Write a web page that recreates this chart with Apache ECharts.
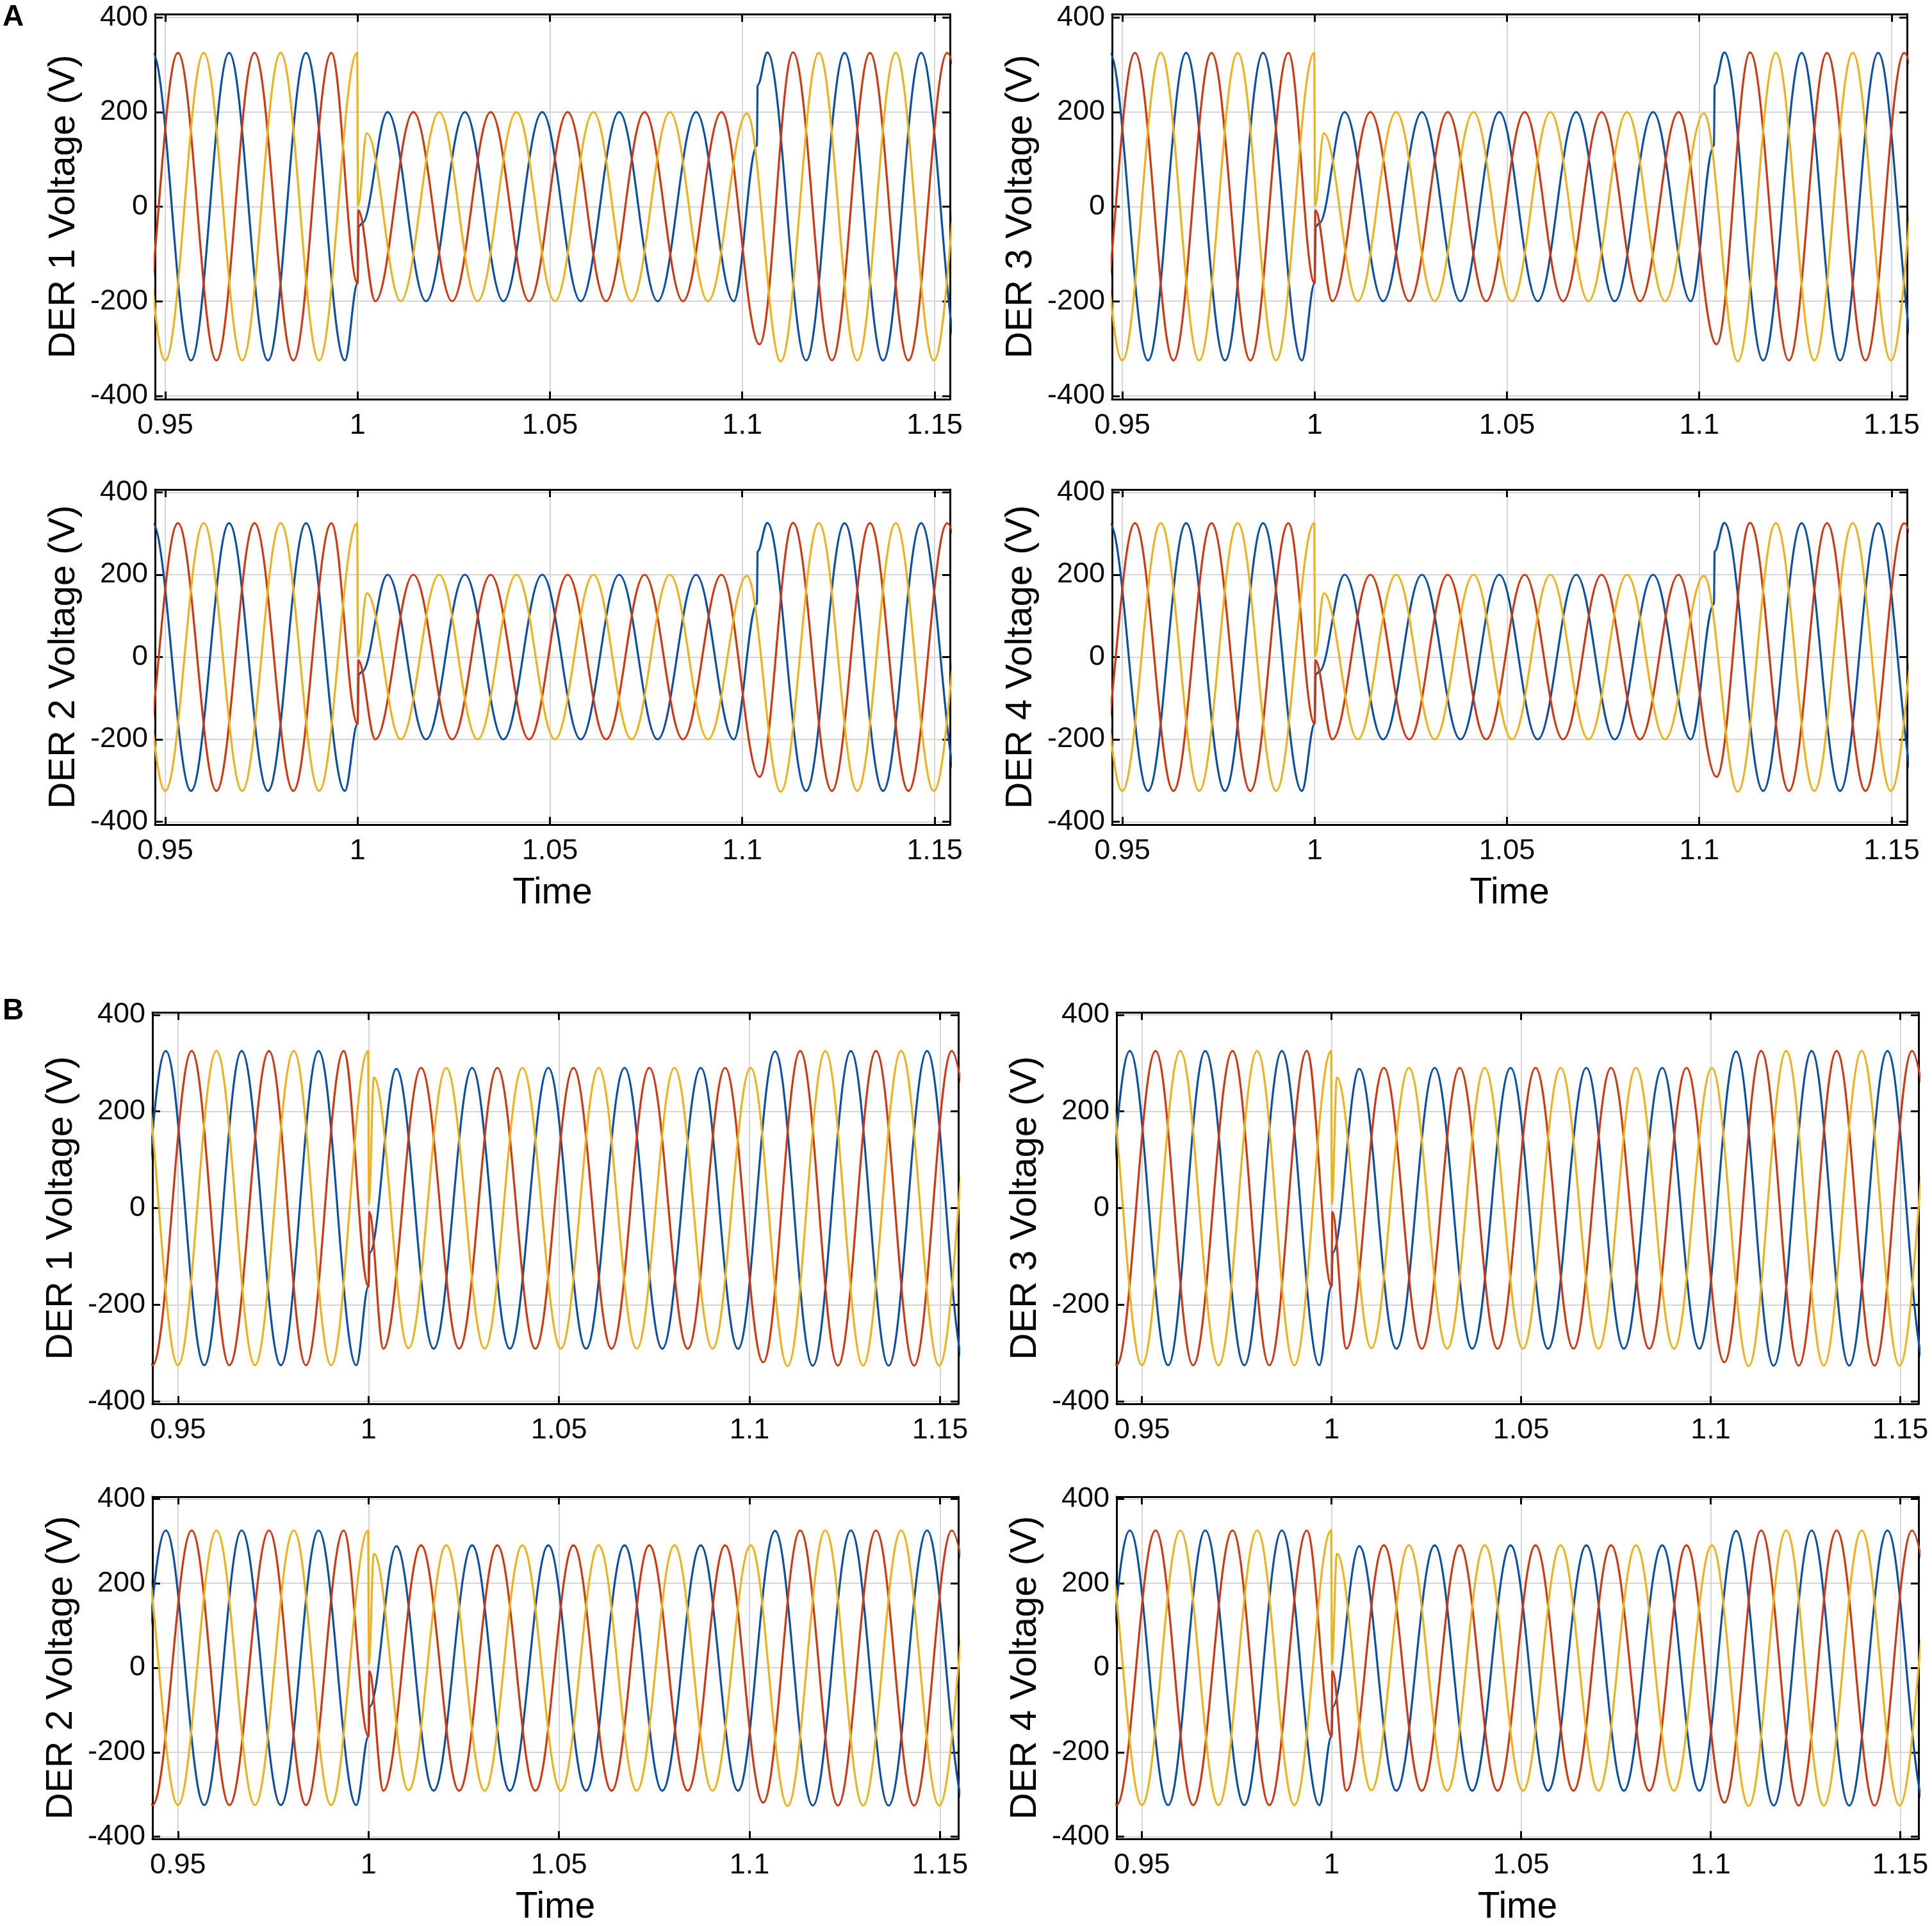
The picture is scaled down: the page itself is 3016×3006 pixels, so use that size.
<!DOCTYPE html>
<html>
<head>
<meta charset="utf-8">
<script src="https://cdn.jsdelivr.net/npm/echarts@6/dist/echarts.min.js"></script>
<style>
html,body{margin:0;padding:0;background:#ffffff;}
#chart{width:3016px;height:3006px;}
</style>
</head>
<body>
<div id="chart"></div>
<script>
// ---------- tick labels ----------
const xTickValues = [0.95, 1.0, 1.05, 1.1, 1.15];
const yTickValues = [-400, -200, 0, 200, 400];
const derTitles = ['DER 1 Voltage (V)', 'DER 2 Voltage (V)', 'DER 3 Voltage (V)', 'DER 4 Voltage (V)'];
const phaseNames = ['Phase a', 'Phase b', 'Phase c'];
const phaseColors = ['#0a4fa6', '#d1360f', '#edb11c'];

// ---------- (A) waveform key points: [time, volts] ----------
// extrema (peaks / troughs) and the break points at the disturbances
const A_blue = [
  [0.9366,-325],[0.9467,325],[0.9567,-325],[0.9666,325],[0.9767,-325],[0.9866,325],[0.9967,-325],
  [1.0000,-162],[1.0003,-42],[1.0012,-35],[1.0078,200],
  [1.0178,-200],[1.0279,200],[1.0379,-200],[1.0480,200],[1.0580,-200],[1.0680,200],[1.0780,-200],[1.0880,200],[1.0978,-200],
  [1.1038,129],[1.1040,257],[1.1065,326],
  [1.1166,-325],[1.1266,325],[1.1366,-325],[1.1465,325],[1.1566,-325],[1.1666,325]
];
const A_red = [
  [0.9332,325],[0.9433,-325],[0.9533,325],[0.9633,-325],[0.9732,325],[0.9833,-325],[0.9932,325],
  [1.0000,-162],[1.0002,-8],[1.0046,-200],
  [1.0145,200],[1.0246,-200],[1.0346,200],[1.0446,-200],[1.0546,200],[1.0646,-200],[1.0746,200],[1.0846,-200],[1.0946,200],
  [1.1045,-291],[1.1132,326],[1.1233,-325],[1.1332,325],[1.1432,-325],[1.1533,325],[1.1633,-325]
];
const A_yellow = [
  [0.9300,-325],[0.9400,325],[0.9500,-325],[0.9600,325],[0.9700,-325],[0.9800,325],[0.9900,-325],[0.9999,325],
  [1.0001,2],[1.0024,155],[1.0112,-200],
  [1.0212,200],[1.0312,-200],[1.0413,200],[1.0513,-200],[1.0613,200],[1.0712,-200],[1.0812,200],[1.0911,-200],[1.1012,197],
  [1.1100,-327],[1.1199,325],[1.1299,-325],[1.1399,325],[1.1498,-325],[1.1599,325],[1.1698,-325]
];

// ---------- (B) waveform key points: [time, volts] ----------
const B_blue = [
  [0.9266,325],[0.9366,-325],[0.9468,325],[0.9569,-325],[0.9667,325],[0.9770,-325],[0.9869,325],[0.9968,-325],
  [1.0000,-162],[1.0003,-92],[1.0073,288],
  [1.0171,-291],[1.0272,290],[1.0371,-291],[1.0472,290],[1.0571,-291],[1.0672,290],[1.0771,-291],[1.0872,290],[1.0970,-291],
  [1.1067,324],[1.1166,-326],[1.1266,325],[1.1365,-326],[1.1466,325],[1.1566,-326],[1.1666,325]
];
const B_red = [
  [0.9332,325],[0.9433,-325],[0.9536,325],[0.9635,-325],[0.9739,325],[0.9836,-325],[0.9935,325],
  [1.0000,-162],[1.0002,-8],[1.0039,-291],
  [1.0138,290],[1.0238,-291],[1.0338,290],[1.0438,-291],[1.0538,290],[1.0638,-291],[1.0737,290],[1.0838,-291],[1.0936,290],
  [1.1036,-319],[1.1133,325],[1.1232,-326],[1.1332,325],[1.1432,-326],[1.1531,325],[1.1632,-326]
];
const B_yellow = [
  [0.9300,-325],[0.9400,325],[0.9500,-325],[0.9601,325],[0.9702,-325],[0.9804,325],[0.9902,-325],[0.9999,325],
  [1.0001,8],[1.0014,270],[1.0105,-290],
  [1.0204,290],[1.0305,-291],[1.0404,290],[1.0505,-291],[1.0604,290],[1.0704,-291],[1.0803,290],[1.0903,-291],[1.1003,290],
  [1.1100,-327],[1.1199,325],[1.1298,-326],[1.1398,325],[1.1498,-326],[1.1598,325],[1.1698,-326]
];

const waves = { A: [A_blue, A_red, A_yellow], B: [B_blue, B_red, B_yellow] };
const ranges = {
  A: { xmin: 0.94734, xmax: 1.1540, ymax: 407 },
  B: { xmin: 0.9433, xmax: 1.1548, ymax: 405 }
};

// ---------- layout ----------
const panels = [
  { set: 'A', der: 0, left: 242,  top: 22,   width: 1241, height: 601, time: false },
  { set: 'A', der: 2, left: 1736, top: 22,   width: 1241, height: 601, time: false },
  { set: 'A', der: 1, left: 242,  top: 764,  width: 1241, height: 523, time: true },
  { set: 'A', der: 3, left: 1736, top: 764,  width: 1241, height: 523, time: true },
  { set: 'B', der: 0, left: 238,  top: 1580, width: 1258, height: 611, time: false },
  { set: 'B', der: 2, left: 1743, top: 1580, width: 1252, height: 611, time: false },
  { set: 'B', der: 1, left: 238,  top: 2336, width: 1258, height: 534, time: true },
  { set: 'B', der: 3, left: 1743, top: 2336, width: 1252, height: 534, time: true }
];

const FONT = "'Liberation Sans', Arial, Helvetica, sans-serif";
const boxLine = { color: '#000000', width: 3 };
const tickStyle = { color: '#000000', width: 3 };
const gridLine = { color: '#d6d6d6', width: 2 };

const grids = [], xAxes = [], yAxes = [], series = [];

panels.forEach((p, i) => {
  const r = ranges[p.set];
  grids.push({
    left: p.left, top: p.top, width: p.width, height: p.height,
    containLabel: false, outerBoundsMode: 'none', show: false
  });
  // bottom x axis
  xAxes.push({
    gridIndex: i, type: 'value', position: 'bottom', min: r.xmin, max: r.xmax,
    axisLine: { show: true, onZero: false, lineStyle: boxLine },
    axisTick: { show: true, inside: true, length: 12, customValues: xTickValues, lineStyle: tickStyle },
    axisLabel: {
      show: true, customValues: xTickValues, margin: 19, fontSize: 45, color: '#0a0a0a', fontFamily: FONT,
      formatter: v => String(Math.round(v * 100) / 100)
    },
    splitLine: { show: true, lineStyle: gridLine },
    name: p.time ? 'Time' : '', nameLocation: 'middle', nameGap: 79,
    nameTextStyle: { fontSize: 57, color: '#000000', fontFamily: FONT }
  });
  // top x axis (box + ticks)
  xAxes.push({
    gridIndex: i, type: 'value', position: 'top', min: r.xmin, max: r.xmax,
    axisLine: { show: true, onZero: false, lineStyle: boxLine },
    axisTick: { show: true, inside: true, length: 12, customValues: xTickValues, lineStyle: tickStyle },
    axisLabel: { show: false },
    splitLine: { show: false }
  });
  // left y axis
  yAxes.push({
    gridIndex: i, type: 'value', position: 'left', min: -r.ymax, max: r.ymax,
    axisLine: { show: true, onZero: false, lineStyle: boxLine },
    axisTick: { show: true, inside: true, length: 12, customValues: yTickValues, lineStyle: tickStyle },
    axisLabel: { show: true, customValues: yTickValues, margin: 11, fontSize: 45, color: '#0a0a0a', fontFamily: FONT },
    splitLine: { show: true, lineStyle: gridLine },
    name: derTitles[p.der], nameLocation: 'middle', nameRotate: 90, nameGap: 113,
    nameTextStyle: { fontSize: 58, color: '#000000', fontFamily: FONT }
  });
  // right y axis (box + ticks)
  yAxes.push({
    gridIndex: i, type: 'value', position: 'right', min: -r.ymax, max: r.ymax,
    axisLine: { show: true, onZero: false, lineStyle: boxLine },
    axisTick: { show: true, inside: true, length: 12, customValues: yTickValues, lineStyle: tickStyle },
    axisLabel: { show: false },
    splitLine: { show: false }
  });
  waves[p.set].forEach((pts, k) => {
    series.push({
      type: 'line', name: phaseNames[k],
      xAxisIndex: 2 * i, yAxisIndex: 2 * i,
      data: pts, showSymbol: false, symbol: 'none',
      smooth: 0.3634, smoothMonotone: 'x',
      clip: true, silent: true, animation: false,
      lineStyle: { color: phaseColors[k], width: 3.2 },
      itemStyle: { color: phaseColors[k] },
      z: 2 + k
    });
  });
});

const chart = echarts.init(document.getElementById('chart'), null, { renderer: 'canvas', width: 3016, height: 3006 });
chart.setOption({
  backgroundColor: '#ffffff',
  animation: false,
  textStyle: { fontFamily: FONT },
  grid: grids,
  xAxis: xAxes,
  yAxis: yAxes,
  series: series,
  graphic: [
    { type: 'text', left: 4, top: 4, style: { text: 'A', font: "bold 46px 'Liberation Sans', Arial, sans-serif", fill: '#000000' } },
    { type: 'text', left: 4, top: 1555, style: { text: 'B', font: "bold 46px 'Liberation Sans', Arial, sans-serif", fill: '#000000' } }
  ]
});
</script>
</body>
</html>
